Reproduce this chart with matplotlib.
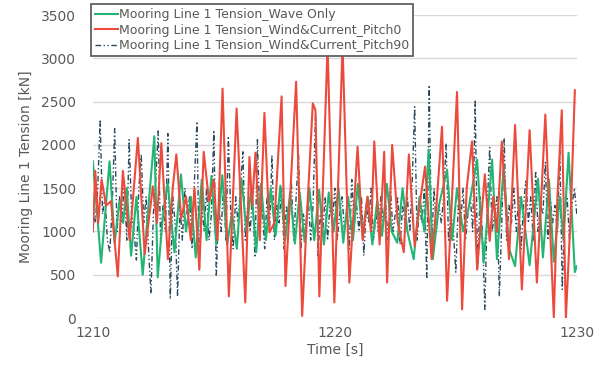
import numpy as np
import matplotlib
matplotlib.use("Agg")
import matplotlib.pyplot as plt

# ---------------- data ----------------
labels = ["Mooring Line 1 Tension_Wave Only",
          "Mooring Line 1 Tension_Wind&Current_Pitch0",
          "Mooring Line 1 Tension_Wind&Current_Pitch90"]

green_t = [1210.00, 1210.34, 1210.69, 1210.90, 1211.10, 1211.25, 1211.40, 1211.58, 1211.80, 1212.06,
           1212.30, 1212.54, 1212.68, 1212.90, 1213.09, 1213.37, 1213.64, 1213.85, 1214.05, 1214.25,
           1214.50, 1214.70, 1214.90, 1215.10, 1215.35, 1215.55, 1215.75, 1215.95, 1216.15, 1216.35,
           1216.55, 1216.75, 1216.95, 1217.15, 1217.35, 1217.55, 1217.75, 1217.95, 1218.15, 1218.35,
           1218.55, 1218.75, 1218.95, 1219.15, 1219.35, 1219.55, 1219.75, 1219.95, 1220.15, 1220.35,
           1220.55, 1220.75, 1220.95, 1221.15, 1221.35, 1221.55, 1221.75, 1221.95, 1222.15, 1222.35,
           1222.58, 1222.80, 1223.00, 1223.26, 1223.50, 1223.70, 1223.88, 1224.05, 1224.30, 1224.64,
           1224.85, 1225.05, 1225.30, 1225.55, 1225.88, 1226.15, 1226.50, 1226.70, 1226.98, 1227.20,
           1227.45, 1227.70, 1228.05, 1228.40, 1228.60, 1228.85, 1229.05, 1229.30, 1229.45, 1229.66,
           1229.92, 1230.00]
green_v = [1810, 640, 1810, 870, 1350, 1100, 1500, 720, 1400, 500,
           1300, 2100, 470, 1200, 1560, 760, 1660, 1000, 1400, 700,
           1600, 900, 1640, 850, 1650, 850, 1220, 800, 1600, 1000,
           1500, 760, 1550, 900, 1500, 950, 1530, 900, 1450, 860,
           1450, 880, 1500, 900, 1480, 850, 1450, 1000, 1500, 870,
           1400, 900, 1550, 950, 1400, 850, 1350, 950, 1550, 1000,
           870, 1500, 1000, 680, 1400, 1000, 1945, 680, 1300, 1710,
           900, 1500, 1000, 1300, 1830, 640, 1830, 680, 1750, 800,
           600, 1400, 610, 1610, 700, 1600, 650, 1400, 900, 1910,
           530, 600]

red_t = [1210.00, 1210.10, 1210.22, 1210.36, 1210.55, 1210.75, 1211.03, 1211.24, 1211.52, 1211.86,
         1212.14, 1212.48, 1212.65, 1212.83, 1213.10, 1213.30, 1213.45, 1213.65, 1213.85, 1214.05,
         1214.20, 1214.40, 1214.58, 1214.80, 1215.00, 1215.15, 1215.36, 1215.62, 1215.94, 1216.30,
         1216.47, 1216.58, 1216.72, 1216.90, 1217.09, 1217.30, 1217.50, 1217.80, 1217.96, 1218.40,
         1218.65, 1218.85, 1219.09, 1219.20, 1219.36, 1219.70, 1219.98, 1220.32, 1220.60, 1220.94,
         1221.15, 1221.35, 1221.50, 1221.63, 1221.85, 1222.04, 1222.16, 1222.37, 1222.60, 1222.85,
         1223.06, 1223.30, 1223.50, 1223.73, 1224.00, 1224.20, 1224.43, 1224.64, 1225.05, 1225.26,
         1225.45, 1225.67, 1225.88, 1226.20, 1226.40, 1226.55, 1226.70, 1226.90, 1227.20, 1227.45,
         1227.73, 1228.05, 1228.35, 1228.55, 1228.70, 1229.05, 1229.20, 1229.38, 1229.55, 1229.75,
         1229.92]
red_v = [1000, 1700, 1100, 1600, 1300, 1350, 480, 1700, 900, 2080,
         740, 1520, 1100, 2020, 680, 1500, 1890, 1150, 1400, 900,
         1500, 560, 1920, 1350, 1600, 900, 2650, 250, 2420, 180,
         1860, 1300, 1910, 900, 2370, 990, 1100, 2560, 370, 2730,
         25, 1200, 2480, 2400, 250, 3150, 180, 3150, 410, 1980,
         900, 1400, 1000, 2040, 850, 1920, 410, 2000, 1100, 760,
         1890, 830, 1300, 1750, 680, 1300, 2210, 200, 2610, 100,
         1500, 2040, 560, 1660, 890, 1400, 1000, 2040, 680, 2230,
         330, 2170, 410, 1500, 2350, 10, 1400, 2400, 0, 1200,
         2630]

blue_start, blue_step = 1210.0, 0.1
blue_v = [1350, 1100, 1500, 2290, 1200, 1400, 900, 760, 1300, 2190,
          1000, 1400, 1100, 1600, 900, 2060, 1200, 1000, 670, 1500,
          1890, 1100, 1400, 800, 280, 1200, 1600, 2160, 900, 1300,
          1000, 2130, 220, 1400, 1100, 250, 1300, 900, 1500, 1200,
          1400, 800, 1600, 2270, 560, 1300, 1000, 1500, 900, 1200,
          2170, 480, 1300, 1000, 1500, 900, 2100, 1200, 800, 1400,
          1100, 1500, 1920, 900, 1300, 1000, 1400, 700, 2060, 1100,
          1300, 800, 1400, 1000, 1880, 900, 1300, 1100, 1500, 800,
          1300, 1100, 1600, 900, 1400, 1890, 800, 1200, 1000, 1400,
          900, 1300, 2330, 700, 1200, 1000, 1400, 900, 1300, 1100,
          1500, 900, 1200, 1400, 1000, 1300, 800, 1600, 1100, 1300,
          1000, 1400, 720, 1300, 1100, 1500, 900, 1200, 1000, 1400,
          1100, 1300, 900, 1500, 1000, 1200, 1400, 850, 1300, 1100,
          1400, 1000, 1600, 2440, 900, 1300, 1100, 1500, 450, 2690,
          800, 1500, 1000, 1300, 1100, 1400, 2020, 900, 1200, 1000,
          530, 1300, 1100, 1500, 900, 1200, 1400, 1000, 2520, 560,
          1400, 1000, 100, 1300, 1970, 1000, 1200, 1400, 250, 1100,
          2080, 900, 1300, 1100, 1500, 1000, 1400, 800, 1300, 1600,
          1100, 1400, 900, 1700, 1000, 1300, 1200, 1800, 900, 1400,
          1100, 1300, 1000, 1945, 330, 1200, 1400, 900, 1300, 1500,
          1200]
blue_t = blue_start + blue_step * np.arange(len(blue_v))

x_ticks = [1210, 1220, 1230]
y_ticks = [0, 500, 1000, 1500, 2000, 2500, 3000, 3500]

# ---------------- figure ----------------
plt.rcParams['font.family'] = ['DejaVu Sans']
fig = plt.figure(figsize=(6.11, 3.66), dpi=100)
ax = fig.add_axes([0.152, 0.131, 0.792, 0.828])

txt = '#595959'
ax.plot(green_t, green_v, color='#22b573', lw=1.5, label=labels[0], zorder=3)
ax.plot(red_t, red_v, color='#ec4a3c', lw=1.5, label=labels[1], zorder=4)
ax.plot(blue_t, blue_v, color='#2b4a5e', lw=1.0, label=labels[2], zorder=2.5,
        dashes=(4, 1.8, 1, 1.8, 1, 1.8))

ax.set_xlim(1210, 1230)
ax.set_ylim(0, 3500)
ax.set_xticks(x_ticks)
ax.set_yticks(y_ticks)
ax.grid(axis='y', color='#d9d9d9', lw=1.0)
ax.set_axisbelow(True)
for s in ax.spines.values():
    s.set_visible(False)
ax.tick_params(length=0, labelsize=10, colors=txt, pad=12)
ax.tick_params(axis='x', pad=6)
ax.set_xlabel('Time [s]', fontsize=10, color=txt, labelpad=2)
ax.set_ylabel('Mooring Line 1 Tension [kN]', fontsize=10, color=txt, labelpad=6)

leg = ax.legend(loc='upper left', bbox_to_anchor=(-0.003, 1.035), fontsize=9,
                frameon=True, fancybox=False, handlelength=1.8, handletextpad=0.1,
                borderpad=0.3, labelspacing=0.2, borderaxespad=0)
leg.get_frame().set_edgecolor('#606060')
leg.get_frame().set_linewidth(1.3)
leg.get_frame().set_alpha(1)
for t in leg.get_texts():
    t.set_color(txt)

fig.savefig('out.png', dpi=100)
